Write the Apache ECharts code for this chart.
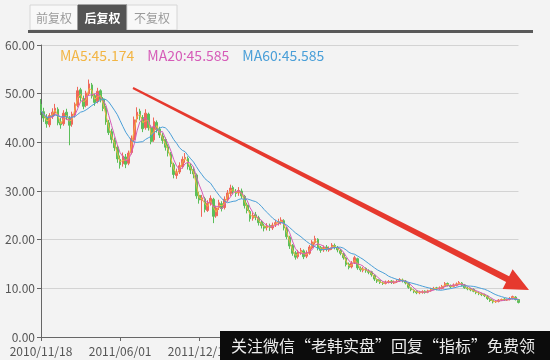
<!DOCTYPE html>
<html><head><meta charset="utf-8">
<script src="https://cdn.jsdelivr.net/npm/echarts@6/dist/echarts.min.js"></script>
<style>html,body{margin:0;padding:0;background:#f3f3f3;}#c{width:550px;height:360px;}</style>
</head><body><div id="c"></div>
<script>
// Weekly candles. First category 2010/11/18, then one per week.
const firstLabel = '2010/11/18';
const weekCount = 170;
const categories = [firstLabel];
for (let k = 1; k < weekCount; k++) {
  const d = new Date(2010, 10, 17 + 7 * k);
  categories.push(d.getFullYear() + '/' + String(d.getMonth() + 1).padStart(2, '0') + '/' + String(d.getDate()).padStart(2, '0'));
}
const opens = [47.8,46.3,45.2,43.6,45.3,46.0,46.8,44.2,43.8,46.2,
45.0,43.7,45.6,47.6,50.8,49.0,47.6,50.0,51.8,49.6,
48.4,50.6,48.9,47.1,44.0,42.2,40.4,39.0,36.5,35.6,
37.0,35.7,37.9,40.6,44.8,46.4,45.1,43.0,45.8,43.1,
40.5,44.1,42.7,41.3,40.6,39.1,37.6,35.4,33.2,33.9,
35.0,36.6,36.7,35.1,34.4,33.3,29.1,28.0,28.4,26.0,
27.6,28.3,24.9,26.6,27.4,26.6,28.2,29.5,30.7,29.8,
29.6,30.0,28.9,27.1,25.8,24.4,25.1,24.5,23.6,22.8,
22.5,22.9,22.4,23.1,23.4,23.7,23.9,22.3,20.5,18.8,
17.3,16.5,17.4,17.7,16.6,17.2,18.4,19.4,20.1,18.4,
17.9,18.5,17.9,18.3,18.8,18.4,17.8,17.1,16.2,15.0,
14.4,15.3,16.1,14.1,13.7,14.1,13.5,13.4,12.7,11.8,
11.6,11.1,11.0,11.2,11.5,11.1,11.3,11.6,11.7,11.5,
11.0,10.1,9.6,9.4,9.1,9.2,9.4,9.2,9.5,9.8,
10.1,9.9,10.0,10.5,11.0,10.5,10.4,10.6,11.0,11.1,
10.7,10.0,9.9,9.8,9.3,9.0,8.8,8.7,8.4,7.8,
7.5,7.2,7.3,7.6,7.8,7.6,7.7,7.9,8.2,7.7];
const closes = [46.5,45.0,43.8,45.5,46.2,47.0,44.0,43.6,46.0,45.2,
43.5,45.8,47.8,50.6,49.2,47.4,50.1,52.0,49.5,48.2,
50.5,48.8,47.0,44.2,42.0,40.6,38.9,36.6,35.4,37.2,
35.5,37.8,40.8,44.6,46.2,45.3,42.8,46.0,43.0,40.2,
44.3,42.6,41.5,40.4,39.0,37.8,35.6,33.4,33.8,35.2,
36.5,36.9,35.0,34.3,33.5,29.0,28.2,28.6,26.2,27.5,
28.5,24.8,26.5,27.6,26.4,28.3,29.6,30.6,29.9,29.5,
30.1,29.0,27.0,26.0,24.3,25.0,24.6,23.5,22.9,22.4,
22.8,22.5,23.0,23.5,23.6,24.0,22.4,20.6,18.7,17.2,
16.4,17.5,17.8,16.5,17.3,18.5,19.5,20.2,18.3,17.8,
18.4,18.0,18.2,18.9,18.5,17.9,17.2,16.3,14.9,14.3,
15.2,16.3,14.2,13.8,14.0,13.6,13.3,12.8,11.9,11.5,
11.2,11.0,11.3,11.4,11.2,11.3,11.5,11.8,11.6,11.1,
10.2,9.7,9.3,9.1,9.2,9.3,9.2,9.5,9.9,10.0,
9.9,10.1,10.4,11.0,10.6,10.3,10.7,10.9,11.2,10.6,
10.1,9.9,9.7,9.4,9.1,8.9,8.7,8.5,7.9,7.5,
7.2,7.3,7.6,7.7,7.6,7.7,7.9,8.3,7.7,7.1];
const lows = [45.6,44.2,43.0,43.1,44.8,45.4,43.5,42.8,43.4,44.6,
39.4,43.2,45.1,47.2,48.4,46.8,47.2,49.6,49.0,47.5,
48.0,48.2,46.4,43.6,41.5,39.8,38.2,35.8,34.6,35.0,
34.7,35.3,37.5,40.2,44.1,44.5,42.1,42.6,42.4,39.6,
40.1,42.0,40.9,39.7,38.3,37.1,34.9,32.6,32.5,33.5,
34.6,35.8,34.4,33.5,32.6,28.4,27.4,24.7,25.6,25.7,
27.0,23.4,24.5,26.1,25.8,26.2,27.8,29.0,29.3,28.8,
29.0,28.4,26.4,25.4,23.7,23.9,24.0,22.9,22.3,21.7,
21.9,21.8,22.0,22.6,22.9,23.1,21.9,20.1,18.1,16.7,
15.9,16.1,16.9,16.0,16.2,16.9,18.0,19.0,17.8,17.3,
17.5,17.6,17.5,17.9,18.0,17.4,16.8,15.9,14.5,13.9,
14.1,15.0,13.8,13.4,13.3,13.2,12.9,12.4,11.5,11.1,
10.9,10.7,10.8,11.0,10.9,10.9,11.1,11.3,11.2,10.8,
9.9,9.4,9.0,8.8,8.8,8.9,8.9,9.0,9.3,9.6,
9.6,9.7,9.8,10.3,10.4,10.0,10.2,10.4,10.7,10.4,
9.9,9.6,9.4,9.2,8.8,8.6,8.4,8.2,7.6,7.2,
6.9,7.0,7.1,7.4,7.4,7.4,7.5,7.7,7.5,6.9];
const highs = [48.9,47.1,45.8,46.0,47.0,47.9,47.2,45.0,46.6,46.9,
45.4,46.3,48.2,51.4,51.2,49.6,50.6,52.9,52.2,50.0,
51.2,50.9,49.3,47.5,44.6,42.8,41.0,39.4,37.3,37.9,
37.6,38.3,41.4,45.3,47.2,46.9,45.6,46.8,46.1,43.5,
45.1,44.5,43.2,41.9,41.0,39.6,38.0,35.8,34.6,35.9,
37.1,37.8,37.1,35.7,34.9,33.6,29.8,29.2,28.8,28.1,
29.1,28.6,27.0,28.2,27.9,28.9,30.2,31.3,31.1,30.4,
30.8,30.5,29.2,27.6,26.1,25.6,25.7,24.9,24.0,23.3,
23.4,23.3,23.5,24.1,24.3,24.6,24.2,22.6,20.8,19.1,
17.7,17.9,18.3,18.0,17.8,18.9,19.9,20.8,20.3,18.7,
18.8,18.9,18.6,19.3,19.2,18.7,18.1,17.3,16.4,15.3,
15.6,16.7,16.3,14.5,14.4,14.3,13.9,13.6,12.9,12.0,
11.8,11.4,11.6,11.7,11.7,11.6,11.8,12.1,12.0,11.7,
11.2,10.3,9.8,9.6,9.5,9.6,9.6,9.7,10.1,10.3,
10.3,10.4,10.7,11.3,11.2,10.8,11.0,11.2,11.5,11.3,
10.9,10.3,10.1,10.0,9.5,9.3,9.1,8.9,8.6,8.0,
7.7,7.6,7.8,7.9,8.0,7.9,8.2,8.5,8.4,7.8];
// MA windows expressed in weekly candles (5d≈1w, 20d≈4w, 60d≈12w)
const maNames = ['MA5', 'MA20', 'MA60'];
const maWindows = [2, 4, 12];
const maColors = ['#f2b544', '#d65cb8', '#4a9fd8'];
const legendValues = ['45.174', '45.585', '45.585'];
const tabLabels = ['前复权', '后复权', '不复权'];
const watermarkText = '关注微信“老韩实盘”回复“指标”免费领';

const FONT = '"Noto Sans CJK SC", "Noto Sans", sans-serif';
const kData = opens.map((o, i) => [o, closes[i], lows[i], highs[i]]);
function movingAvg(win) {
  return closes.map((c, i) => {
    const s = Math.max(0, i - win + 1);
    let sum = 0;
    for (let j = s; j <= i; j++) sum += closes[j];
    return +(sum / (i - s + 1)).toFixed(3);
  });
}
const chart = echarts.init(document.getElementById('c'), null, {renderer: 'canvas'});
const maSeries = maNames.map((n, k) => ({
  name: n, type: 'line', data: movingAvg(maWindows[k]), showSymbol: false, smooth: false,
  lineStyle: {width: 1, color: maColors[k]}, itemStyle: {color: maColors[k]}, z: 3
}));

// arrow (annotation) geometry
const S = [133, 88], T = [529, 290];
const dx = T[0] - S[0], dy = T[1] - S[1], L = Math.hypot(dx, dy);
const ux = dx / L, uy = dy / L, nx = -uy, ny = ux;
const headLen = 24, headW = 11, w0 = 1, w1 = 3.3;
const B = [T[0] - ux * headLen, T[1] - uy * headLen];
const arrowPts = [
  [S[0] + nx * w0, S[1] + ny * w0], [B[0] + nx * w1, B[1] + ny * w1], [B[0] + nx * headW, B[1] + ny * headW],
  T, [B[0] - nx * headW, B[1] - ny * headW], [B[0] - nx * w1, B[1] - ny * w1], [S[0] - nx * w0, S[1] - ny * w0]
];

const tabBoxes = [[30, 48], [78, 49], [127, 50]];
const graphics = [];
tabLabels.forEach((t, k) => {
  const active = k === 1;
  graphics.push({type: 'rect', shape: {x: tabBoxes[k][0], y: 5, width: tabBoxes[k][1], height: 25},
    style: {fill: active ? '#545454' : '#f8f8f8', stroke: active ? '#545454' : '#d6d6d6', lineWidth: 1}, z: 10});
  graphics.push({type: 'text', x: tabBoxes[k][0] + tabBoxes[k][1] / 2, y: 18,
    style: {text: t, fill: active ? '#ffffff' : '#9a9a9a', font: (active ? 'bold ' : '') + '12px ' + FONT,
      textAlign: 'center', textVerticalAlign: 'middle'}, z: 11});
});
graphics.push({type: 'rect', shape: {x: 28, y: 30, width: 505, height: 3}, style: {fill: '#595959'}, z: 10});
graphics.push({type: 'polygon', shape: {points: arrowPts}, style: {fill: '#e6392e'}, z: 20});
graphics.push({type: 'rect', shape: {x: 220, y: 331, width: 330, height: 29}, style: {fill: '#0c0c0c'}, z: 30});
graphics.push({type: 'text', x: 231, y: 346, style: {text: watermarkText, fill: '#ececec', font: '16px ' + FONT,
  textAlign: 'left', textVerticalAlign: 'middle'}, z: 31});

chart.setOption({
  animation: false,
  backgroundColor: '#f3f3f3',
  textStyle: {fontFamily: FONT},
  legend: {
    left: 50, top: 44, itemWidth: 0, itemHeight: 0, icon: 'none', itemGap: 8,
    data: maNames.map((n, k) => ({name: n, textStyle: {color: maColors[k]}})),
    formatter: name => name + ':' + legendValues[maNames.indexOf(name)],
    textStyle: {fontSize: 14, fontFamily: FONT}
  },
  grid: {left: 41, right: 15, top: 45, bottom: 23},
  xAxis: {
    type: 'category', data: categories, boundaryGap: false,
    axisLine: {lineStyle: {color: '#666'}},
    axisTick: {interval: 27, length: 4, lineStyle: {color: '#666'}},
    axisLabel: {interval: 27, color: '#555', fontSize: 12, margin: 8, fontFamily: FONT},
    splitLine: {show: false}
  },
  yAxis: {
    type: 'value', min: 0, max: 60, interval: 10,
    axisLine: {show: true, lineStyle: {color: '#666'}},
    axisTick: {show: true, length: 4, lineStyle: {color: '#666'}},
    axisLabel: {color: '#555', fontSize: 12, margin: 6, fontFamily: FONT, formatter: v => v.toFixed(2)},
    splitLine: {lineStyle: {color: '#d3d3d3'}}
  },
  series: [{
    name: 'K', type: 'candlestick', data: kData, barWidth: 2.2,
    itemStyle: {color: '#f0675a', color0: '#5bbf59', borderColor: '#f0675a', borderColor0: '#5bbf59', borderWidth: 1},
    z: 2
  }].concat(maSeries),
  graphic: graphics
});
</script></body></html>
